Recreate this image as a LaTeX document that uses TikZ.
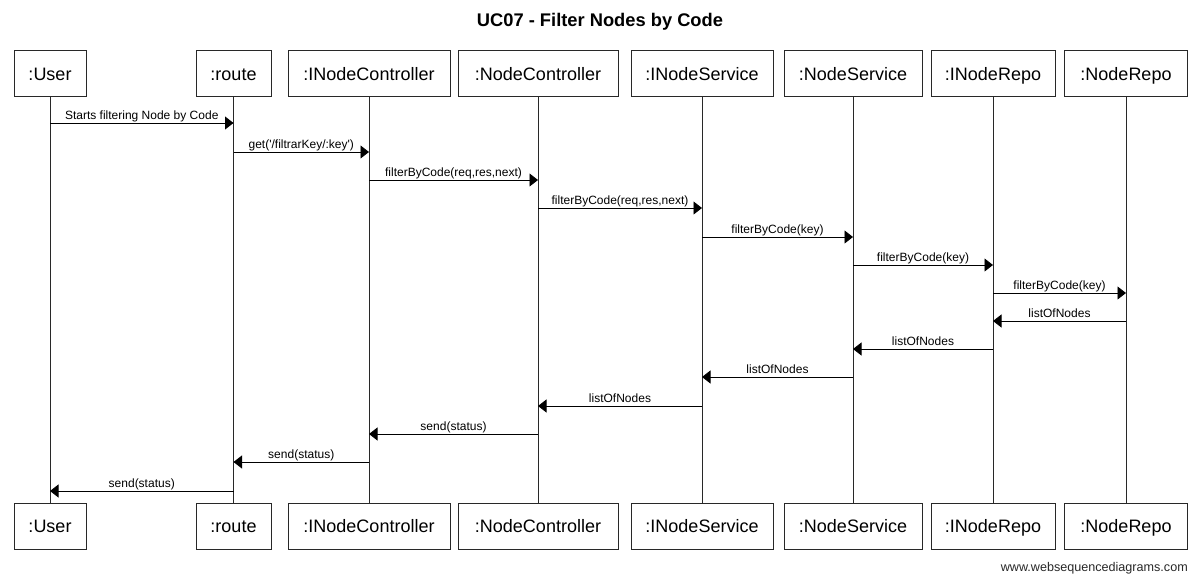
\documentclass[tikz,border=0pt]{standalone}
\usepackage{fontspec}
\setmainfont{Liberation Sans}
\usetikzlibrary{positioning,arrows.meta}
\definecolor{mygray}{RGB}{40,40,40}

\begin{document}
\begin{tikzpicture}[x=1pt,y=-1pt,
  objbox/.style={draw=mygray,line width=0.9pt,minimum height=46pt,inner sep=0pt,
    text height=13pt,text depth=0pt,font=\fontsize{18}{20}\selectfont},
  lifeline/.style={draw=mygray,line width=0.9pt},
  msg/.style={-{Triangle[length=8.5pt,width=13pt]},line width=0.9pt},
  msglabel/.style={above=0pt,inner sep=0.5pt,text height=8.6pt,text depth=2.4pt,
    font=\fontsize{12}{13}\selectfont}]

  \useasboundingbox (0,0) rectangle (1200,581);

  \node[font=\bfseries\fontsize{18.3}{20}\selectfont] (title) at (600,22) {UC07 - Filter Nodes by Code};

  % participants, top and bottom, with their lifelines
  \foreach \n/\x/\w/\t in {user/50/72/User, route/233.5/75/route,
      inc/369/162/INodeController, nc/538/160/NodeController,
      ins/702/142/INodeService, ns/853/138/NodeService,
      inr/993/124/INodeRepo, nr/1126/123/NodeRepo}{
    \node[objbox,minimum width=\w pt] (\n-top) at (\x,73.5) {:\t};
    \node[objbox,minimum width=\w pt] (\n-bot) at (\x,526) {:\t};
    \draw[lifeline] (\n-top) -- (\n-bot);
  }

  % messages
  \foreach \a/\b/\y/\t in {user/route/123/Starts filtering Node by Code,
      route/inc/152/{get(\textquotesingle/filtrarKey/:key\textquotesingle)},
      inc/nc/180/{filterByCode(req,res,next)},
      nc/ins/208/{filterByCode(req,res,next)},
      ins/ns/237/filterByCode(key), ns/inr/265/filterByCode(key),
      inr/nr/293/filterByCode(key),
      nr/inr/321/listOfNodes, inr/ns/349/listOfNodes,
      ns/ins/377/listOfNodes, ins/nc/406/listOfNodes,
      nc/inc/434/send(status), inc/route/462/send(status),
      route/user/491/send(status)}{
    \draw[msg] (\a-top |- 0,\y) -- node[msglabel] {\t} (\b-top |- 0,\y);
  }

  \node[anchor=east,text=mygray,inner sep=0pt,font=\fontsize{12.6}{14}\selectfont]
    (site) at (1188,568) {www.websequencediagrams.com};

\end{tikzpicture}
\end{document}
